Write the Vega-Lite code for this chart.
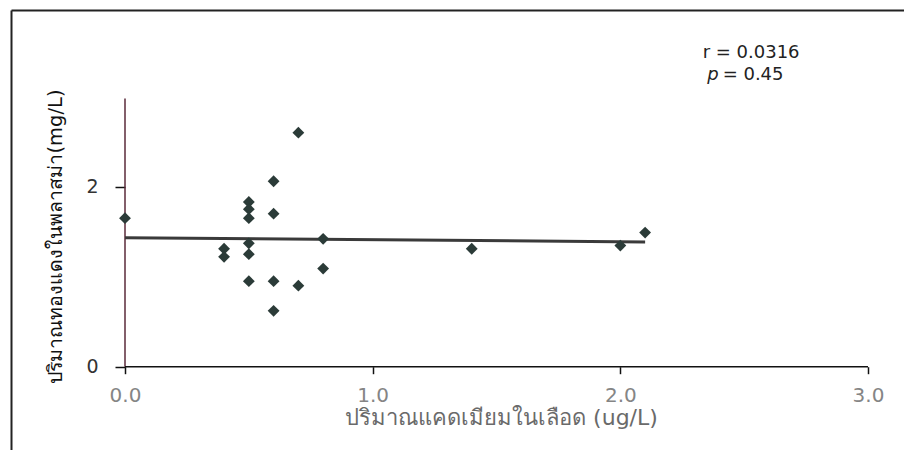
{
  "$schema": "https://vega.github.io/schema/vega-lite/v6.json",
  "width": 893,
  "height": 440,
  "autosize": {"type": "none"},
  "padding": {"left": 11, "top": 10, "right": 0, "bottom": 0},
  "background": "white",
  "config": {"view": {"stroke": null}, "axis": {"grid": false}, "font": "DejaVu Sans"},
  "datasets": {
    "points": [
      {"x": 0.0, "y": 1.65}, {"x": 0.4, "y": 1.31}, {"x": 0.4, "y": 1.22},
      {"x": 0.5, "y": 1.83}, {"x": 0.5, "y": 1.75}, {"x": 0.5, "y": 1.65},
      {"x": 0.5, "y": 1.37}, {"x": 0.5, "y": 1.25}, {"x": 0.5, "y": 0.95},
      {"x": 0.6, "y": 2.06}, {"x": 0.6, "y": 1.70}, {"x": 0.6, "y": 0.95},
      {"x": 0.6, "y": 0.62}, {"x": 0.7, "y": 2.60}, {"x": 0.7, "y": 0.90},
      {"x": 0.8, "y": 1.42}, {"x": 0.8, "y": 1.09}, {"x": 1.4, "y": 1.31},
      {"x": 2.0, "y": 1.345}, {"x": 2.1, "y": 1.49}
    ],
    "fit": [{"x": 0.0, "y": 1.433}, {"x": 2.1, "y": 1.386}],
    "xaxisline": [{"x": 0, "x2": 3, "y": 0}],
    "yaxisline": [{"x": 0, "y": 0, "y2": 2.98}],
    "stats": [{"x": 2.528, "y": 3.49, "label": "r = 0.0316"}],
    "pval": [{"x": 2.413, "y": 3.24, "label": "= 0.45"}],
    "pital": [{"x": 2.397, "y": 3.24, "label": "p"}]
  },
  "layer": [
    {
      "encoding": {
        "x": {"field": "x", "type": "quantitative",
          "scale": {"domain": [-0.4603, 3.1453], "nice": false, "zero": false},
          "axis": {"orient": "bottom", "offset": -83.3, "domain": false, "values": [0, 1, 2, 3], "format": ".1f",
            "tickSize": 7, "tickColor": "#111", "tickWidth": 1.5,
            "labelFontSize": 20, "labelColor": "#858585", "labelPadding": 12, "labelFont": "DejaVu Sans",
            "title": "ปริมาณแคดเมียมในเลือด (ug/L)", "titleFontSize": 22, "titleColor": "#6a6a6a", "titleFontWeight": "normal", "titleFont": "DejaVu Sans",
            "titleX": 490, "titleY": 51, "titleBaseline": "middle", "titleAlign": "center"}},
        "y": {"field": "y", "type": "quantitative",
          "scale": {"domain": [-0.926, 3.963], "nice": false, "zero": false},
          "axis": {"orient": "left", "offset": -114, "domain": false, "values": [0, 2],
            "tickSize": 10, "tickColor": "#111", "tickWidth": 1.5,
            "labelFontSize": 19, "labelColor": "#333", "labelPadding": 17, "labelFont": "DejaVu Sans",
            "title": "ปริมาณทองแดงในพลาสม่า(mg/L)", "titleFontSize": 19.5, "titleColor": "#111", "titleFontWeight": "normal", "titleFont": "DejaVu Sans",
            "titleAngle": -90, "titleX": -70, "titleY": 226, "titleBaseline": "middle", "titleAlign": "center"}}
      },
      "layer": [
        {"data": {"name": "yaxisline"}, "mark": {"type": "rule", "color": "#5a2a3a", "strokeWidth": 1.5}, "encoding": {"y2": {"field": "y2"}}},
        {"data": {"name": "fit"}, "mark": {"type": "line", "color": "#3a3a3a", "strokeWidth": 3}, "encoding": {}},
        {"data": {"name": "points"}, "mark": {"type": "point", "shape": "diamond", "size": 140, "filled": true, "color": "#2b3b38", "opacity": 1}, "encoding": {}},
        {"data": {"name": "stats"}, "mark": {"type": "text", "fontSize": 18, "color": "#222", "align": "center", "baseline": "middle", "font": "DejaVu Sans"}, "encoding": {"text": {"field": "label"}}},
        {"data": {"name": "pval"}, "mark": {"type": "text", "fontSize": 18, "color": "#222", "align": "left", "baseline": "middle", "font": "DejaVu Sans"}, "encoding": {"text": {"field": "label"}}},
        {"data": {"name": "pital"}, "mark": {"type": "text", "fontSize": 18, "color": "#222", "align": "right", "baseline": "middle", "font": "DejaVu Sans", "fontStyle": "italic"}, "encoding": {"text": {"field": "label"}}}
      ]
    },
    {
      "data": {"name": "xaxisline"},
      "mark": {"type": "rule", "color": "#111", "strokeWidth": 1.5},
      "encoding": {
        "x": {"field": "x", "type": "quantitative",
          "scale": {"domain": [-0.4603, 3.1453], "nice": false, "zero": false},
          "axis": {"orient": "top", "offset": 0, "domain": true, "domainColor": "#222", "domainWidth": 2, "ticks": false, "labels": false, "title": null}},
        "x2": {"field": "x2"},
        "y": {"field": "y", "type": "quantitative",
          "scale": {"domain": [-0.926, 3.963], "nice": false, "zero": false},
          "axis": {"orient": "left", "offset": 0, "domain": true, "domainColor": "#222", "domainWidth": 2, "ticks": false, "labels": false, "title": null}}
      }
    }
  ],
  "resolve": {"axis": {"x": "independent", "y": "independent"}}
}
